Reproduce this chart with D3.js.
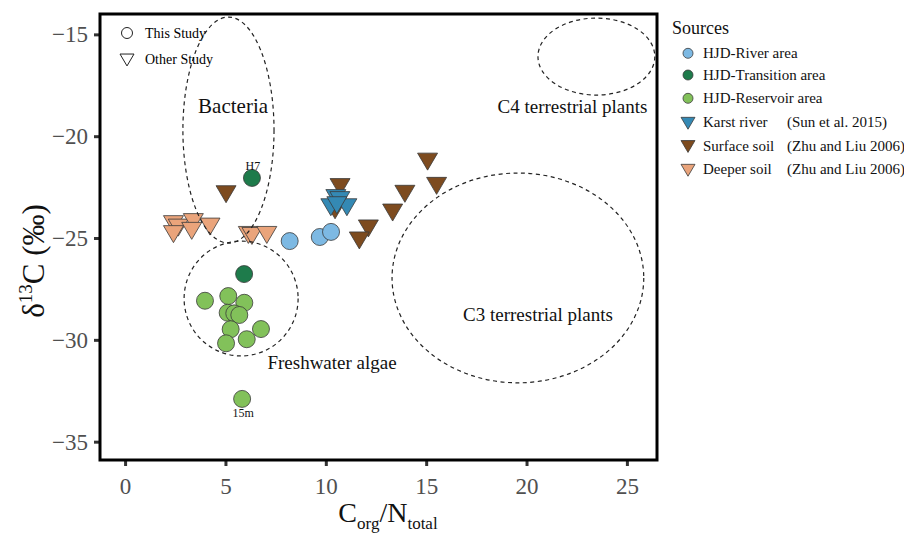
<!DOCTYPE html>
<html><head><meta charset="utf-8">
<script src="https://cdn.jsdelivr.net/npm/d3@7"></script>
<style>
html,body{margin:0;padding:0;background:#fff;}
svg{display:block;}
svg text{font-family:"Liberation Serif","Times New Roman",serif !important;}
</style></head>
<body><svg id="c" width="904" height="534"></svg>
<script>
// ---- data ----
const riverArea = [[8.2,-25.15],[9.7,-24.95],[10.26,-24.7]];
const transitionArea = [[6.32,-22.05],[5.93,-26.77]];
const reservoirArea = [[3.98,-28.08],[5.14,-27.85],[5.94,-28.18],[5.11,-28.67],[5.44,-28.7],[5.69,-28.78],
  [5.26,-29.48],[6.77,-29.47],[5.03,-30.17],[6.06,-29.97],[5.83,-32.9]];
const karstRiver = [[10.5,-22.9],[10.7,-23.0],[10.25,-23.35],[11.05,-23.35],[10.55,-23.25]];
const surfaceSoil = [[5.03,-22.71],[10.71,-22.36],[10.46,-23.5],[15.07,-21.11],[15.52,-22.3],[13.94,-22.69],
  [13.33,-23.61],[12.12,-24.39],[11.67,-24.98]];
const deeperSoil = [[2.41,-24.18],[2.65,-24.35],[3.4,-24.08],[3.32,-24.51],[4.23,-24.3],[2.41,-24.67],
  [6.14,-24.71],[6.32,-24.76],[7.06,-24.71]];
const xTicks = [0,5,10,15,20,25];
const yTicks = [-15,-20,-25,-30,-35];
// source regions: [cx, cy, rx, ry] in data units
const regions = [[5.15,-19.7,2.27,5.55],[5.78,-27.97,2.84,2.82],[23.48,-16.09,2.91,1.89],[19.57,-26.96,6.27,5.15]];
const regionLabels = [["Bacteria",5.38,-18.86,21],["C4 terrestrial plants",22.29,-18.86,19],["C3 terrestrial plants",20.57,-29.07,19],["Freshwater algae",10.31,-31.43,19]];
const pointLabels = [["H7",6.37,-21.66],["15m",5.88,-33.79]];

const series = [
  {name:"HJD-River area", cite:"", data:riverArea, shape:"circle", color:"#7db9e3"},
  {name:"HJD-Transition area", cite:"", data:transitionArea, shape:"circle", color:"#1e7b4b"},
  {name:"HJD-Reservoir area", cite:"", data:reservoirArea, shape:"circle", color:"#82c15a"},
  {name:"Karst river", cite:"(Sun et al. 2015)", data:karstRiver, shape:"tri", color:"#3489b4"},
  {name:"Surface soil", cite:"(Zhu and Liu 2006)", data:surfaceSoil, shape:"tri", color:"#7d4b1f"},
  {name:"Deeper soil", cite:"(Zhu and Liu 2006)", data:deeperSoil, shape:"tri", color:"#eaa47b"}
];

// ---- chart ----
const svg = d3.select("#c");
const L=100,R=657,T=14,B=460;
const x = d3.scaleLinear().domain([-1.25,26.5]).range([L,R]);
const y = d3.scaleLinear().domain([-35.9,-14]).range([B,T]);

function tri(w){const h=w*0.85;return `M${-w/2},${-h/3}L${w/2},${-h/3}L0,${2*h/3}Z`;}

// axes
const xa = svg.append("g").attr("transform",`translate(0,${B})`)
  .call(d3.axisBottom(x).tickValues(xTicks).tickSize(6).tickPadding(12).tickFormat(d3.format("d")));
const ya = svg.append("g").attr("transform",`translate(${L},0)`)
  .call(d3.axisLeft(y).tickValues(yTicks).tickSize(6).tickPadding(6).tickFormat(d=>"\u2212"+Math.abs(d)));
[xa,ya].forEach(a=>{
  a.select(".domain").remove();
  a.selectAll(".tick line").attr("stroke","#333").attr("stroke-width",3);
  a.selectAll(".tick text").attr("fill","#505050").attr("font-size",23);
});

// points
const pg = svg.append("g");
const order=[5,4,3,2,0,1];
order.forEach(i=>{
  const s=series[i];
  if(s.shape==="circle"){
    pg.selectAll(null).data(s.data).enter().append("circle")
      .attr("cx",d=>x(d[0])).attr("cy",d=>y(d[1])).attr("r",8.5)
      .attr("fill",s.color).attr("stroke","#3a3a3a").attr("stroke-width",0.8);
  } else {
    pg.selectAll(null).data(s.data).enter().append("path")
      .attr("d",tri(20)).attr("transform",d=>`translate(${x(d[0])},${y(d[1])})`)
      .attr("fill",s.color).attr("stroke","#3a3a3a").attr("stroke-width",0.8);
  }
});

// ellipses
svg.append("g").selectAll("ellipse").data(regions).enter().append("ellipse")
  .attr("cx",d=>x(d[0])).attr("cy",d=>y(d[1]))
  .attr("rx",d=>x(d[0]+d[2])-x(d[0])).attr("ry",d=>y(d[1])-y(d[1]+d[3]))
  .attr("fill","none").attr("stroke","#222").attr("stroke-width",1.2).attr("stroke-dasharray","4,3.5");

svg.append("g").selectAll("text").data(regionLabels).enter().append("text")
  .attr("x",d=>x(d[1])).attr("y",d=>y(d[2])).attr("text-anchor","middle")
  .attr("font-size",d=>d[3]).attr("fill","#111").text(d=>d[0]);
svg.append("g").selectAll("text").data(pointLabels).enter().append("text")
  .attr("x",d=>x(d[1])).attr("y",d=>y(d[2])).attr("text-anchor","middle")
  .attr("font-size",12).attr("fill","#111").text(d=>d[0]);

// frame
svg.append("rect").attr("x",L).attr("y",T).attr("width",R-L).attr("height",B-T)
  .attr("fill","none").attr("stroke","#000").attr("stroke-width",3);

// inner legend
const il = svg.append("g");
il.append("circle").attr("cx",127).attr("cy",33).attr("r",5.5).attr("fill","none").attr("stroke","#222").attr("stroke-width",1);
il.append("text").attr("x",145).attr("y",38).attr("font-size",14).text("This Study");
il.append("path").attr("d",tri(14)).attr("transform","translate(127,58)").attr("fill","none").attr("stroke","#222").attr("stroke-width",1);
il.append("text").attr("x",145).attr("y",64).attr("font-size",14).text("Other Study");

// axis titles
const yt = svg.append("text").attr("transform","translate(44,261) rotate(-90)").attr("text-anchor","middle")
  .attr("font-size",31).attr("fill","#111");
yt.append("tspan").text("\u03B4");
yt.append("tspan").attr("font-size",19).attr("dy",-12).text("13");
yt.append("tspan").attr("dy",12).text("C (\u2030)");
const xt = svg.append("text").attr("x",388).attr("y",522).attr("text-anchor","middle").attr("font-size",28).attr("fill","#111");
xt.append("tspan").text("C");
xt.append("tspan").attr("font-size",17).attr("dy",7).text("org");
xt.append("tspan").attr("dy",-7).text("/N");
xt.append("tspan").attr("font-size",17).attr("dy",7).text("total");

// right legend
const lg = svg.append("g");
lg.append("text").attr("x",672).attr("y",34).attr("font-size",18).attr("fill","#111").text("Sources");
const rowsY=[53.3,75,98.3,122.3,145.5,169.3];
series.forEach((s,i)=>{
  const g=lg.append("g").attr("transform",`translate(688,${rowsY[i]})`);
  if(s.shape==="circle") g.append("circle").attr("r",5).attr("fill",s.color).attr("stroke","#3a3a3a").attr("stroke-width",0.8);
  else g.append("path").attr("d",tri(14)).attr("transform","translate(0,-1)").attr("fill",s.color).attr("stroke","#3a3a3a").attr("stroke-width",0.8);
  g.append("text").attr("x",15).attr("y",5).attr("font-size",15).attr("fill","#111").text(s.name);
  if(s.cite) g.append("text").attr("x",99).attr("y",5).attr("font-size",15).attr("fill","#111").text(s.cite);
});
</script></body></html>
